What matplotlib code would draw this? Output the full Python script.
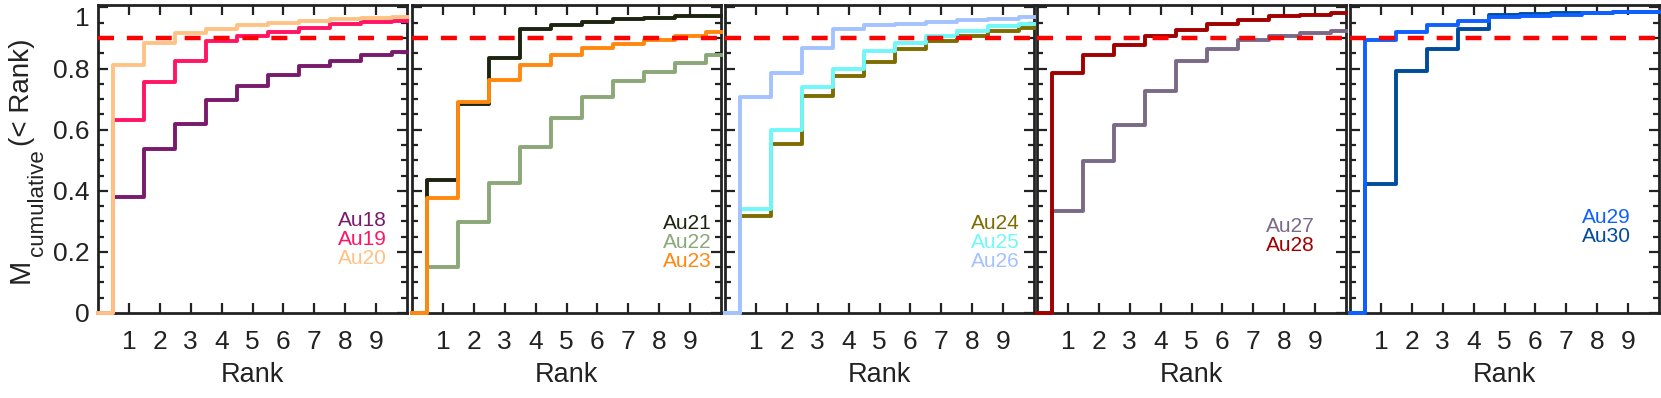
import matplotlib
matplotlib.use("Agg")
import matplotlib.pyplot as plt
from matplotlib.ticker import MultipleLocator, FixedLocator, FuncFormatter
import numpy as np

plt.rcParams['font.family'] = ['Liberation Sans', 'DejaVu Sans']

rank = np.arange(0, 11)

# cumulative mass fraction per rank (rank 0 .. 10)
au18 = [0, 0.381, 0.537, 0.618, 0.698, 0.744, 0.778, 0.809, 0.826, 0.843, 0.854]
au19 = [0, 0.632, 0.755, 0.824, 0.890, 0.907, 0.921, 0.934, 0.946, 0.951, 0.957]
au20 = [0, 0.811, 0.885, 0.916, 0.930, 0.941, 0.949, 0.957, 0.962, 0.966, 0.970]
au21 = [0, 0.435, 0.683, 0.835, 0.930, 0.943, 0.954, 0.962, 0.966, 0.971, 0.973]
au22 = [0, 0.151, 0.297, 0.427, 0.544, 0.638, 0.707, 0.759, 0.789, 0.818, 0.843]
au23 = [0, 0.378, 0.692, 0.761, 0.813, 0.843, 0.867, 0.881, 0.894, 0.908, 0.919]
au24 = [0, 0.318, 0.553, 0.711, 0.776, 0.822, 0.865, 0.890, 0.908, 0.922, 0.933]
au25 = [0, 0.341, 0.600, 0.741, 0.800, 0.856, 0.884, 0.908, 0.924, 0.938, 0.945]
au26 = [0, 0.707, 0.787, 0.867, 0.928, 0.941, 0.947, 0.954, 0.958, 0.962, 0.968]
au27 = [0, 0.333, 0.499, 0.616, 0.726, 0.824, 0.865, 0.892, 0.908, 0.917, 0.924]
au28 = [0, 0.784, 0.845, 0.876, 0.905, 0.925, 0.946, 0.959, 0.971, 0.976, 0.981]
au29 = [0, 0.895, 0.919, 0.943, 0.956, 0.968, 0.973, 0.976, 0.981, 0.984, 0.986]
au30 = [0, 0.422, 0.791, 0.863, 0.930, 0.975, 0.977, 0.981, 0.982, 0.984, 0.986]

panels = [
    [("Au18", au18, "#7a1a6c"), ("Au19", au19, "#ff1564"), ("Au20", au20, "#ffc285")],
    [("Au21", au21, "#1c2410"), ("Au22", au22, "#8aa878"), ("Au23", au23, "#ff8810")],
    [("Au24", au24, "#7f6c00"), ("Au25", au25, "#70f7f7"), ("Au26", au26, "#a3c2ff")],
    [("Au27", au27, "#7a6987"), ("Au28", au28, "#a00000")],
    [("Au29", au29, "#0f60ff"), ("Au30", au30, "#004c9c")],
]
# draw order (last listed on top) and legend anchor per panel
draw_order = [[0, 1, 2], [0, 1, 2], [0, 1, 2], [0, 1], [1, 0]]
legend_pos = [(0.935, 0.30), (0.97, 0.29), (0.955, 0.29), (0.90, 0.28), (0.91, 0.31)]

fig = plt.figure(figsize=(16.61, 3.98), dpi=100)
W, H = 1661.0, 398.0
lefts = [98, 412, 725, 1037, 1350]
pw = 309
bottom = (H - 313) / H
height = (313 - 5) / H
dark = "#222222"

for i, left in enumerate(lefts):
    ax = fig.add_axes([left / W, bottom, pw / W, height])
    series = panels[i]
    for j in draw_order[i]:
        name, vals, col = series[j]
        ax.plot(rank, vals, drawstyle="steps-mid", color=col, lw=2.8, clip_on=False, zorder=3)
    ax.axhline(0.9, color="#ff0000", lw=3.2, ls=(0, (3.6, 2.9)), zorder=4, clip_on=False)

    ax.set_xlim(0, 10)
    ax.set_ylim(0, 1.008)
    ax.xaxis.set_major_locator(FixedLocator(range(1, 10)))
    ax.yaxis.set_major_locator(MultipleLocator(0.2))
    ax.yaxis.set_minor_locator(MultipleLocator(0.05))
    ax.tick_params(which="both", direction="in", top=True, right=True, color=dark, width=1.6)
    ax.tick_params(which="major", length=7.5, labelcolor=dark)
    ax.tick_params(which="minor", length=4.5)
    ax.tick_params(axis="x", labelsize=19, pad=12)
    ax.tick_params(axis="y", labelsize=19, pad=6)
    for sp in ax.spines.values():
        sp.set_color(dark)
        sp.set_linewidth(2.0)
    ax.set_xlabel("Rank", fontsize=19.5, color=dark, labelpad=6)
    if i == 0:
        ax.yaxis.set_major_formatter(FuncFormatter(lambda v, p: "%g" % round(v, 1)))
        for lab in ax.get_yticklabels():
            if lab.get_text() == "1":
                lab.set_verticalalignment("top")
    else:
        ax.set_yticklabels([])

    lx, ly = legend_pos[i]
    for k, (name, vals, col) in enumerate(series):
        ax.text(lx, ly - k * 0.062, name, transform=ax.transAxes, color=col,
                fontsize=15, ha="right", va="center")

# y label: M with a small "cumulative" subscript, then (< Rank)
fig.text(21 / W, 1 - 283 / H, "M", rotation=90, fontsize=21, color=dark, ha="center", va="bottom")
fig.text(38 / W, 1 - 256 / H, "cumulative", rotation=90, fontsize=16, color=dark, ha="center", va="bottom")
fig.text(22 / W, 1 - 146 / H, "(< Rank)", rotation=90, fontsize=20, color=dark, ha="center", va="bottom")

fig.savefig("out.png", dpi=100)
